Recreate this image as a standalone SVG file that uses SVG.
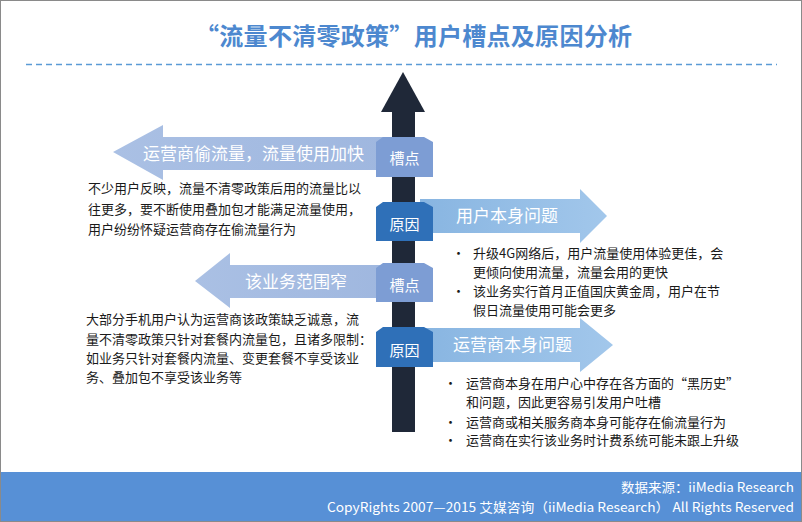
<svg xmlns="http://www.w3.org/2000/svg" width="802" height="522" viewBox="0 0 802 522">
<defs>
<style>
.t{font-family:"Noto Sans CJK SC","Liberation Sans",sans-serif;}
.body{font-size:13px;fill:#1a1a1a;}
.albl{font-size:17px;fill:#ffffff;}
.blbl{font-size:15px;fill:#ffffff;text-anchor:middle;}
.ft{font-size:13px;fill:#ffffff;text-anchor:end;}
.cao{fill:#7d9dd4;}
.yin{fill:#2f70b8;}
.larr{fill:url(#lg);}
.rarr{fill:url(#rg);}
</style>
<linearGradient id="lg" x1="0" y1="0" x2="1" y2="0">
<stop offset="0" stop-color="#aac0e4"/>
<stop offset="1" stop-color="#9fb7df"/>
</linearGradient>
<linearGradient id="rg" x1="0" y1="0" x2="1" y2="0">
<stop offset="0" stop-color="#88b5e1"/>
<stop offset="1" stop-color="#a2c7eb"/>
</linearGradient>
</defs>
<rect x="0" y="0" width="802" height="522" fill="#ffffff"/>
<text class="t" x="195" y="45" font-size="24" font-weight="bold" fill="#4d88cf" textLength="437" lengthAdjust="spacing">“流量不清零政策”用户槽点及原因分析</text>
<line x1="26" y1="64.5" x2="777" y2="64.5" stroke="#5b9bd5" stroke-width="1.5" stroke-dasharray="6 4"/>

<g id="connectors">
<polygon class="larr" points="113,152 163,125 163,137 390,137 390,170 163,170 163,180"/>
<polygon class="larr" points="195,281 230,253 230,265 390,265 390,298 230,298 230,308"/>
<polygon class="rarr" points="420,199 580,199 580,189 607,216 580,243 580,233 420,233"/>
<polygon class="rarr" points="420,328 580,328 580,318 613,345 580,372 580,362 420,362"/>
</g>

<g id="spine">
<rect x="392" y="105" width="23" height="327" fill="#1f2838"/>
<polygon points="403,72 425,112 381,112" fill="#1f2838"/>
</g>

<g id="cao1">
<polygon class="cao" points="383,137 424,137 433,142 433,177 376,177 376,142"/>
<text class="t blbl" x="404.5" y="164">槽点</text>
</g>
<g id="yin1">
<polygon class="yin" points="383,202 424,202 433,207 433,241 376,241 376,207"/>
<text class="t blbl" x="404.5" y="230">原因</text>
</g>
<g id="cao2">
<polygon class="cao" points="383,263 424,263 433,268 433,302 376,302 376,268"/>
<text class="t blbl" x="404.5" y="291">槽点</text>
</g>
<g id="yin2">
<polygon class="yin" points="383,327 424,327 433,332 433,367 376,367 376,332"/>
<text class="t blbl" x="404.5" y="356">原因</text>
</g>

<g id="arrow-labels">
<text class="t albl" x="143" y="160">运营商偷流量，流量使用加快</text>
<text class="t albl" x="245" y="288">该业务范围窄</text>
<text class="t albl" x="456" y="222">用户本身问题</text>
<text class="t albl" x="453" y="351">运营商本身问题</text>
</g>

<g id="text-left1">
<text class="t body" x="88" y="193">不少用户反映，流量不清零政策后用的流量比以</text>
<text class="t body" x="88" y="214">往更多，要不断使用叠加包才能满足流量使用，</text>
<text class="t body" x="88" y="234">用户纷纷怀疑运营商存在偷流量行为</text>
</g>
<g id="text-left2">
<text class="t body" x="86" y="324">大部分手机用户认为运营商该政策缺乏诚意，流</text>
<text class="t body" x="86" y="344">量不清零政策只针对套餐内流量包，且诸多限制：</text>
<text class="t body" x="86" y="363">如业务只针对套餐内流量、变更套餐不享受该业</text>
<text class="t body" x="86" y="382">务、叠加包不享受该业务等</text>
</g>
<g id="text-right1">
<text class="t body" x="452" y="258">•</text>
<text class="t body" x="473" y="258">升级4G网络后，用户流量使用体验更佳，会</text>
<text class="t body" x="473" y="277">更倾向使用流量，流量会用的更快</text>
<text class="t body" x="452" y="296">•</text>
<text class="t body" x="473" y="296">该业务实行首月正值国庆黄金周，用户在节</text>
<text class="t body" x="473" y="315">假日流量使用可能会更多</text>
</g>
<g id="text-right2">
<text class="t body" x="444" y="388">•</text>
<text class="t body" x="466" y="388">运营商本身在用户心中存在各方面的“黑历史”</text>
<text class="t body" x="466" y="407">和问题，因此更容易引发用户吐槽</text>
<text class="t body" x="444" y="427">•</text>
<text class="t body" x="466" y="427">运营商或相关服务商本身可能存在偷流量行为</text>
<text class="t body" x="444" y="445">•</text>
<text class="t body" x="466" y="445">运营商在实行该业务时计费系统可能未跟上升级</text>
</g>

<g id="footer">
<rect x="0" y="472" width="802" height="50" fill="#5790d6"/>
<text class="t ft" x="794" y="492" textLength="173" lengthAdjust="spacingAndGlyphs">数据来源：iiMedia Research</text>
<text class="t ft" x="794" y="512" textLength="467" lengthAdjust="spacingAndGlyphs">CopyRights 2007—2015 艾媒咨询（iiMedia Research） All Rights Reserved</text>
</g>
<rect x="0.5" y="0.5" width="801" height="521" fill="none" stroke="#8a8a8a" stroke-width="1"/>
</svg>
